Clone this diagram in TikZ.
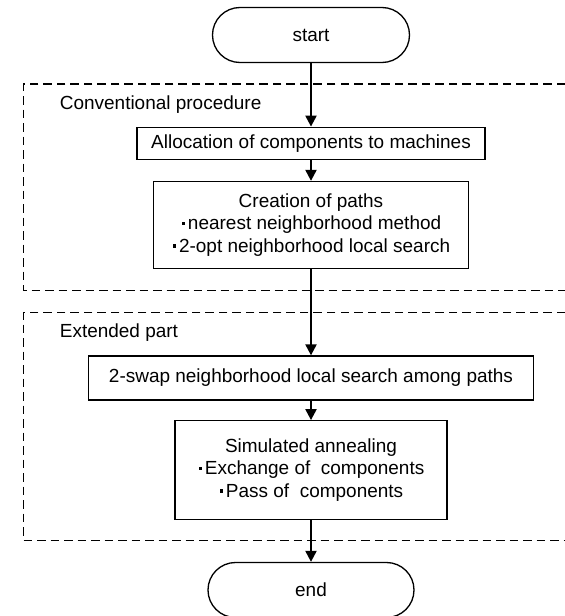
\documentclass[tikz,border=0pt]{standalone}
\usepackage{fontspec}
\setmainfont{Liberation Sans}
\usetikzlibrary{arrows.meta}
\newcommand{\sqdot}{\kern0.05em\rule[0.26em]{0.18em}{0.18em}\kern0.15em}

\begin{document}
\begin{tikzpicture}[>={Triangle[length=0.22cm,width=0.22cm]},stepbox/.style={draw,line width=0.75pt,inner sep=0pt,align=center,font=\fontsize{10.8pt}{12.9pt}\selectfont},termbox/.style={stepbox,rounded corners=0.55cm,minimum height=1.1cm},partlabel/.style={anchor=west,inner sep=0pt,font=\fontsize{10.8pt}{12.9pt}\selectfont},flow/.style={->,line width=1.25pt},region/.style={dash pattern=on 0.17cm off 0.1cm,line width=0.95pt}]
  \useasboundingbox (0,0) rectangle (11.3,-12.32);
  \draw[region] (11.3,-1.68) -| (0.47,-5.81) -- (11.3,-5.81);
  \draw[region] (11.3,-6.25) -| (0.47,-10.81) -- (11.3,-10.81);
  \node[partlabel] (conv) at (1.19,-2.10) {Conventional procedure};
  \node[partlabel] (ext) at (1.19,-6.65) {Extended part};
  \node[termbox,minimum width=3.94cm] (start) at (6.22,-0.70) {start};
  \node[stepbox,minimum width=6.96cm,minimum height=0.65cm] (alloc) at (6.22,-2.87) {Allocation of components to machines};
  \node[stepbox,minimum width=6.31cm,minimum height=1.74cm] (paths) at (6.22,-4.50) {Creation of paths\\\sqdot nearest neighborhood method\\\sqdot 2-opt neighborhood local search};
  \node[stepbox,minimum width=8.91cm,minimum height=0.88cm] (swap) at (6.22,-7.56) {2-swap neighborhood local search among paths};
  \node[stepbox,minimum width=5.44cm,minimum height=1.97cm] (anneal) at (6.22,-9.40) {Simulated annealing\\\sqdot Exchange of\ \ components\\\sqdot Pass of\ \ components};
  \node[termbox,minimum width=4.12cm] (stop) at (6.22,-11.80) {end};
  \draw[flow] (start) -- (alloc);
  \draw[flow] (alloc) -- (paths);
  \draw[flow] (paths) -- (swap);
  \draw[flow] (swap) -- (anneal);
  \draw[flow] (anneal) -- (stop);
\end{tikzpicture}
\end{document}
